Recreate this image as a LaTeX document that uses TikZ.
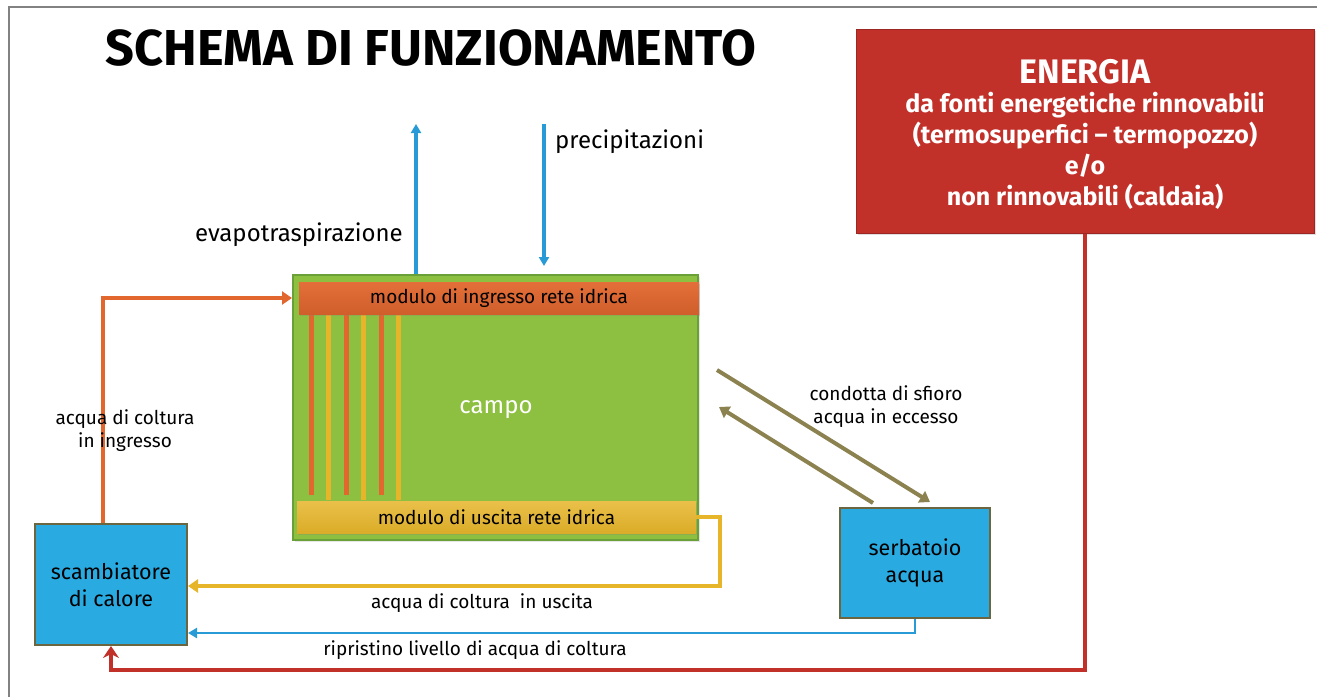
\documentclass[tikz,border=0pt]{standalone}
\usepackage{fontspec}
\setmainfont{Fira Sans}
\newfontfamily\titlefont{Fira Sans}
\usetikzlibrary{arrows.meta,calc,shadows}
\definecolor{cblue}{RGB}{41,171,226}
\definecolor{lblue}{RGB}{40,155,214}
\definecolor{corange}{RGB}{226,103,47}
\definecolor{cyellow}{RGB}{230,181,42}
\definecolor{cgreen}{RGB}{141,192,64}
\definecolor{cgreenb}{RGB}{105,160,56}
\definecolor{cred}{RGB}{194,48,42}
\definecolor{colive}{RGB}{139,130,80}
\definecolor{cborder}{RGB}{107,101,64}
\definecolor{cframe}{RGB}{130,130,130}
\tikzset{
  bluebox/.style={draw=cborder,line width=2pt,fill=cblue,align=center,font=\fontsize{21.5}{27}\selectfont,inner sep=0pt},
  modbox/.style={inner sep=0pt,font=\fontsize{19}{23}\selectfont},
  lbl/.style={font=\fontsize{19}{23}\selectfont,align=center,inner sep=0pt},
  biglbl/.style={font=\fontsize{24}{28}\selectfont,inner sep=0pt},
  conn/.style={line width=3.5pt,line join=miter},
  tipA/.style={-{Triangle[width=13pt,length=10pt]}},
  tipB/.style={-{Triangle[width=10pt,length=9pt]}},
}
\begin{document}
\begin{tikzpicture}[x=1pt,y=-1pt]
\useasboundingbox (0,0) rectangle (1317,697);
% frame
\draw[cframe,line width=1.5pt] (9,697) -- (9,7) -- (1317,7);
% title
\node[inner sep=0pt,font=\titlefont\bfseries\fontsize{50.5}{56}\selectfont] (title) at (431,48) {SCHEMA DI FUNZIONAMENTO};
% energy box
\node[fill=cred,draw=cred!80!black,line width=1pt,minimum width=458pt,minimum height=204pt,inner sep=0pt,
  drop shadow={shadow xshift=2pt,shadow yshift=-2pt,opacity=0.25}] (en) at (1085,131) {};
\node[text=white,inner sep=0pt,font=\bfseries\fontsize{34}{40}\selectfont] (t1) at (1085,72) {ENERGIA};
\node[text=white,inner sep=0pt,align=center,font=\bfseries\fontsize{25}{31}\selectfont] (t2) at (1085,151)
  {da fonti energetiche rinnovabili\\(termosuperfici – termopozzo)\\e/o\\non rinnovabili (caldaia)};
% campo
\node[fill=cgreen,draw=cgreenb,line width=2pt,minimum width=405pt,minimum height=265pt,inner sep=0pt,
  drop shadow={shadow xshift=2pt,shadow yshift=-2pt,opacity=0.2}] (campo) at (495.5,407.5) {};
\node[biglbl,text=white] (cl) at (496,410) {campo};
% stripes
\foreach \xx/\cc/\yy in {311/corange/495,328/cyellow/500,346/corange/495,363/cyellow/500,381/corange/495,398/cyellow/500}{
  \fill[\cc] (\xx-2.5,312) rectangle (\xx+2.5,\yy);
}
\node[modbox,top color=corange!95!white,bottom color=corange!92!black,minimum width=400pt,minimum height=32pt,
  drop shadow={shadow xshift=1pt,shadow yshift=-2pt,opacity=0.25}] (ing) at (499,298) {modulo di ingresso rete idrica};
\node[modbox,top color=cyellow!85!white,bottom color=cyellow!95!black,minimum width=399pt,minimum height=32pt,
  drop shadow={shadow xshift=1pt,shadow yshift=-2pt,opacity=0.25}] (usc) at (496.5,517) {modulo di uscita rete idrica};
% blue boxes
\node[bluebox,minimum width=152pt,minimum height=121pt] (sc) at (111,584.5) {scambiatore\\di calore};
\node[bluebox,minimum width=150pt,minimum height=110pt] (ser) at (915,563) {serbatoio\\acqua};
% evapotraspirazione / precipitazioni
\coordinate (evtop) at (416,124);
\coordinate (prtop) at (544,124);
\draw[lblue,line width=3.5pt,tipB] (campo.north -| evtop) -- (evtop);
\draw[lblue,line width=3.5pt,tipB] (prtop) -- (544,266);
\node[lbl,font=\fontsize{24}{28}\selectfont,anchor=east] (evl) at (403,235) {evapotraspirazione};
\node[lbl,font=\fontsize{24}{28}\selectfont,anchor=west] (prl) at (555,142) {precipitazioni};
% orange connector
\draw[corange,conn,tipA] ([xshift=-8pt]sc.north) |- (campo.west |- ing.west);
\node[lbl] (lin) at (125,431) {acqua di coltura\\in ingresso};
% yellow connector
\coordinate (ycorner) at (720,586);
\draw[cyellow,conn,tipA] (usc.east) -| (ycorner) -- ($(sc.east)+(0,1.5)$);
\node[lbl] (lout) at (482,603) {acqua di coltura\ \ in uscita};
% blue connector
\draw[lblue,line width=2.5pt,tipB] (ser.south) |- ($(sc.east)+(0,48.5)$);
\node[lbl] (lrip) at (475,650) {ripristino livello di acqua di coltura};
% red connector
\coordinate (rcorner) at (1085,670);
\draw[cred,conn,-{Stealth[width=16pt,length=12pt,inset=4pt]}] (en.south) -- (rcorner) -| (sc.south);
% olive arrows
\draw[colive,line width=4pt,tipA] ($(campo.east)+(18,-37.5)$) -- ($(ser.north)+(15,-5)$);
\draw[colive,line width=4pt,tipA] ($(ser.north)+(-42,-4)$) -- ($(campo.east)+(20,-0.5)$);
\node[lbl] (lsf) at (886,407) {condotta di sfioro\\acqua in eccesso};
\end{tikzpicture}
\end{document}
